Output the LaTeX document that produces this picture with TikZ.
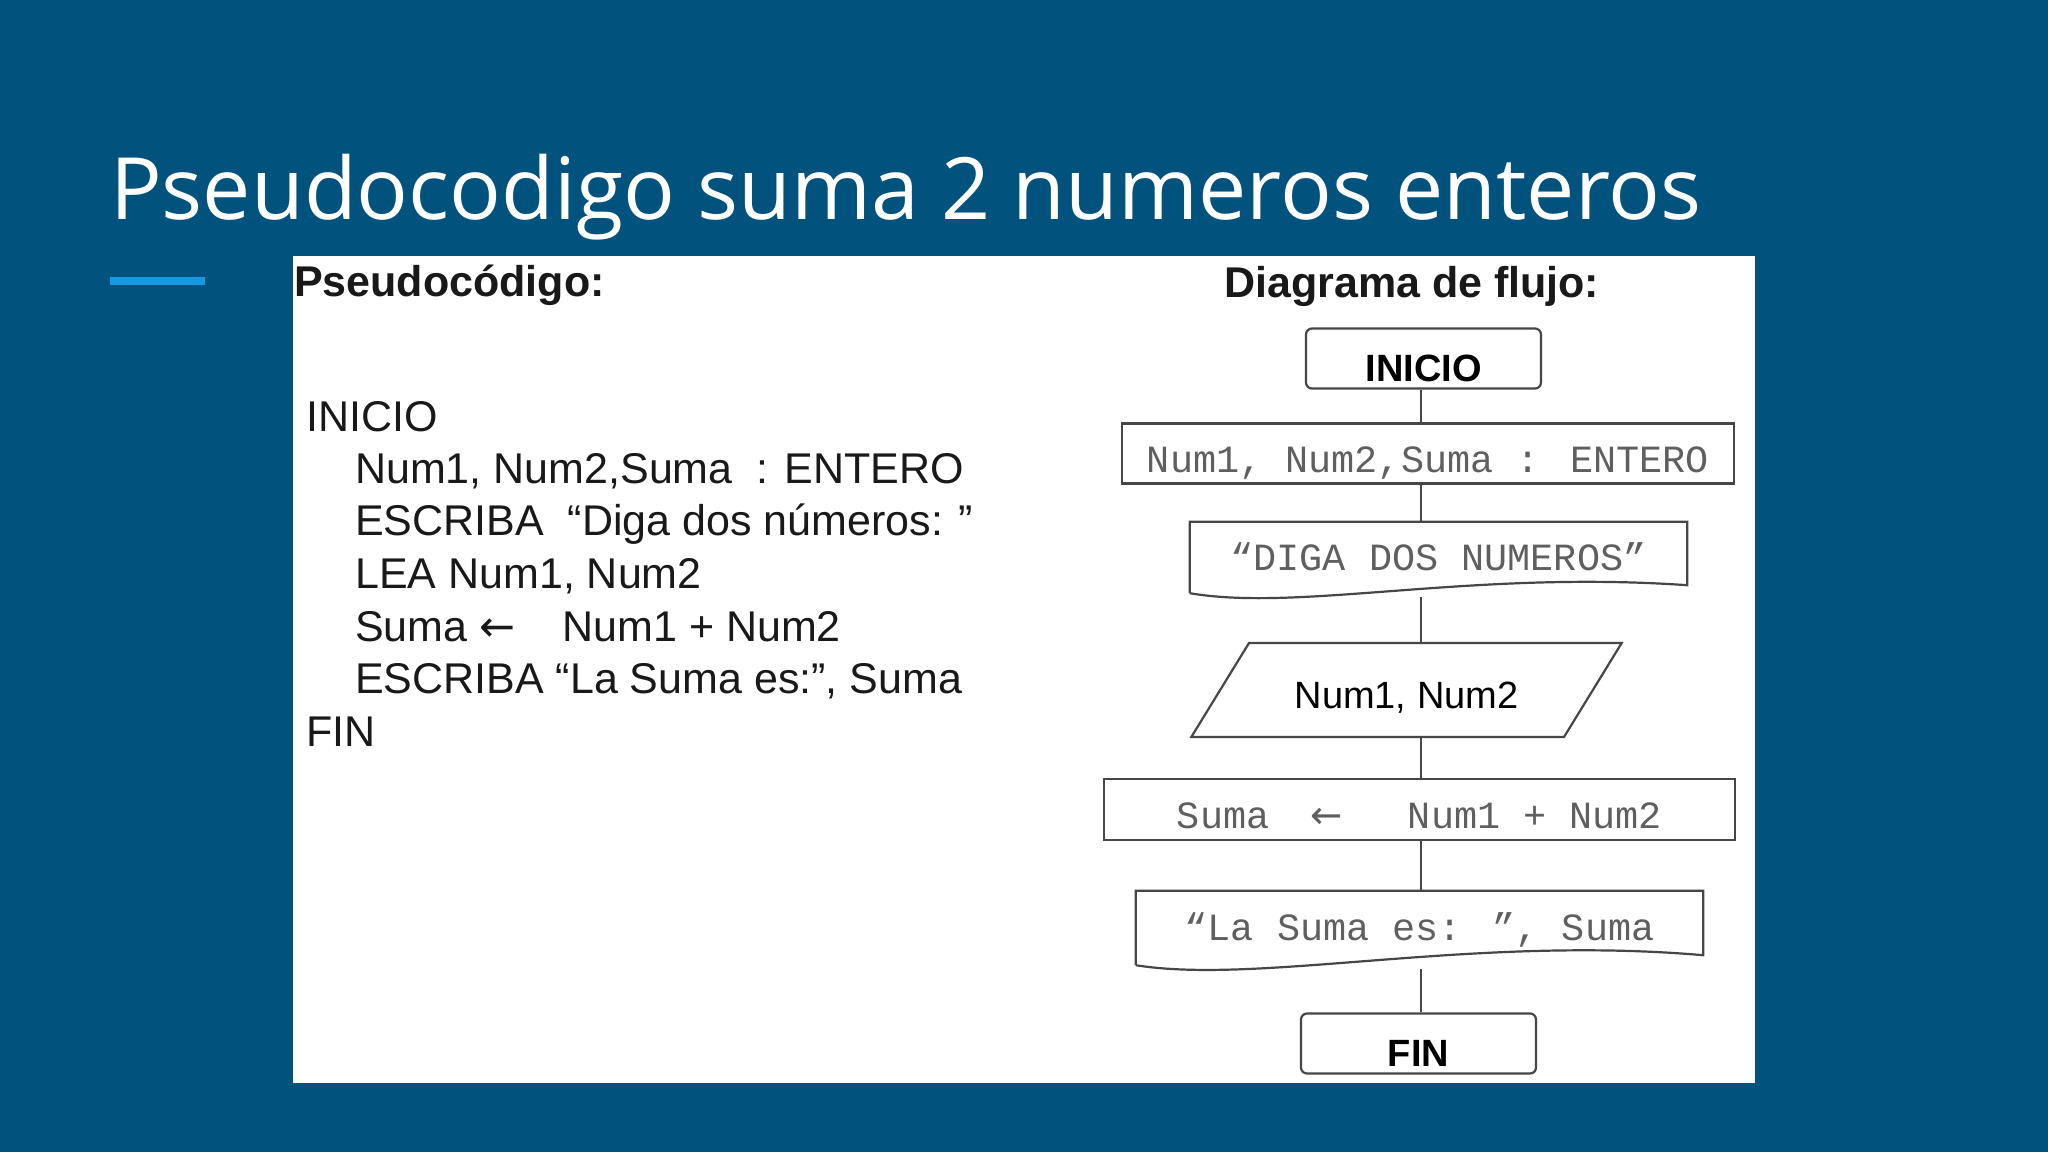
\documentclass[tikz,border=0pt]{standalone}
\usepackage{fontspec}
\setmainfont{Liberation Sans}
\newfontfamily\titlefont{Open Sans}
\newfontfamily\codefont{Liberation Mono}
\newfontfamily\arrowfont{DejaVu Sans}
\usetikzlibrary{shapes.geometric}
\definecolor{slidebg}{RGB}{1,82,124}
\definecolor{accent}{RGB}{22,152,226}
\definecolor{monogray}{RGB}{95,95,95}
\definecolor{edgegray}{RGB}{70,70,70}
\tikzset{
  termbox/.style={draw=edgegray, line width=2.2pt, rounded corners=6pt,
    minimum width=235pt, minimum height=60pt, inner sep=0pt,
    text height=46pt, text depth=0pt,
    font=\fontsize{38}{40}\selectfont\bfseries},
  procbox/.style={draw=edgegray, line width=2.2pt, minimum height=60pt,
    inner sep=0pt, text height=38pt, text depth=0pt, text=monogray,
    font=\codefont\fontsize{38.5}{40}\selectfont},
  docbox/.style={inner sep=0pt, text height=34pt, text depth=0pt,
    text=monogray, font=\codefont\fontsize{38.5}{40}\selectfont},
  iobox/.style={draw=edgegray, line width=2.2pt, trapezium,
    trapezium left angle=41.3, trapezium right angle=138.7,
    trapezium stretches=true, minimum width=431pt, minimum height=94pt,
    inner sep=0pt, text height=36pt, text depth=0pt,
    font=\fontsize{38}{40}\selectfont},
  codeline/.style={anchor=base west, inner sep=0pt, text=black!90,
    font=\fontsize{43}{48}\selectfont},
  header/.style={anchor=base west, inner sep=0pt, text=black!90,
    font=\fontsize{43}{46}\selectfont\bfseries},
  flowline/.style={draw=edgegray, line width=2pt},
}
\begin{document}
\begin{tikzpicture}[x=1pt,y=-1pt]
  \useasboundingbox (0,0) rectangle (2048,1152);
  \fill[slidebg] (0,0) rectangle (2048,1152);
  \node[anchor=base west, inner sep=0pt, text=white,
    font=\titlefont\fontsize{86}{96}\selectfont] (title) at (110,219)
    {Pseudocodigo suma 2 numeros enteros};
  \fill[accent] (110,277) rectangle (205,285);
  \fill[white] (293,256) rectangle (1755,1083);

  % pseudocodigo
  \node[header] (hpseudo) at (294,296) {Pseudocódigo:};
  \node[codeline] (p1) at (306,431) {INICIO};
  \node[codeline] (p2) at (355,483) {Num1, Num2,Suma\ \ : ENTERO};
  \node[codeline] (p3) at (355,535.5) {ESCRIBA\ \ “Diga dos números: ”};
  \node[codeline] (p4) at (355,588) {LEA Num1, Num2};
  \node[codeline] (p5) at (355,641) {Suma {\arrowfont ←}\hspace{47pt}Num1 + Num2};
  \node[codeline] (p6) at (355,693) {ESCRIBA “La Suma es:”, Suma};
  \node[codeline] (p7) at (306,746) {FIN};

  % diagrama de flujo
  \node[header] (hflujo) at (1224,297) {Diagrama de flujo:};
  \coordinate (axis) at (1421,0);
  \node[termbox] (inicio) at (1423.5,358.5) {INICIO};
  \node[procbox, minimum width=612pt] (decl) at (1428,453.5)
    {Num1, Num2,Suma : ENTERO};
  \node[docbox, minimum width=497pt, minimum height=63pt] (diga)
    at (1438.5,553.5) {“DIGA DOS NUMEROS”};
  \draw[flowline, line width=2.2pt] ([yshift=-8pt]diga.south west) -- (diga.north west)
    -- (diga.north east) -- (diga.south east)
    .. controls (1470,570) and (1300,612) .. ([yshift=-8pt]diga.south west);
  \coordinate (digaout) at (1421,597);
  \node[iobox] (lea) at (1406.5,690) {Num1, Num2};
  \node[procbox, minimum width=631pt, minimum height=61pt] (suma)
    at (1419.5,809.5)
    {Suma\ \ \makebox[23.1pt]{\arrowfont ←}\ \ \ Num1 + Num2};
  \node[docbox, minimum width=567pt, minimum height=64pt] (lasuma)
    at (1419.5,923) {“La Suma es: ”, Suma};
  \draw[flowline, line width=2.2pt] ([yshift=-10pt]lasuma.south west) -- (lasuma.north west)
    -- (lasuma.north east) -- (lasuma.south east)
    .. controls (1470,935) and (1260,985) .. ([yshift=-10pt]lasuma.south west);
  \coordinate (lasumaout) at (1421,969);
  \node[termbox] (fin) at (1418.5,1043.5) {FIN};

  \draw[flowline] (inicio.south -| axis) -- (decl.north -| axis);
  \draw[flowline] (decl.south -| axis) -- (diga.north -| axis);
  \draw[flowline] (digaout) -- (lea.north -| axis);
  \draw[flowline] (lea.south -| axis) -- (suma.north -| axis);
  \draw[flowline] (suma.south -| axis) -- (lasuma.north -| axis);
  \draw[flowline] (lasumaout) -- (fin.north -| axis);
\end{tikzpicture}
\end{document}
